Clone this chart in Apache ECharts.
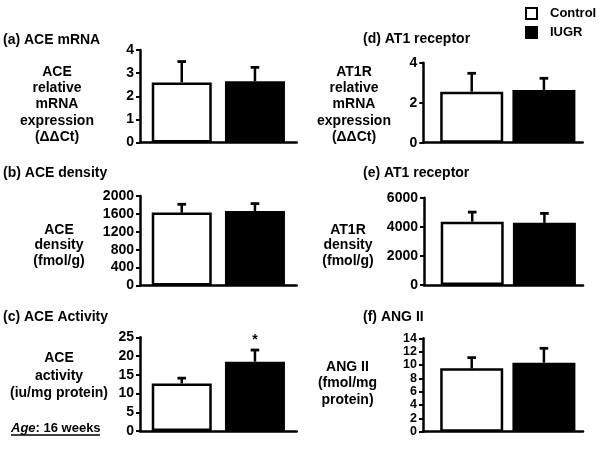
<!DOCTYPE html>
<html><head><meta charset="utf-8">
<script src="https://cdn.jsdelivr.net/npm/echarts@6/dist/echarts.min.js"></script>
<style>html,body{margin:0;padding:0;background:#fff}#c{width:601px;height:449px}</style>
</head><body><div id="c"></div>
<script>
// ---- data ----
const groups = ['Control', 'IUGR'];
const panelTitles = ['(a) ACE mRNA', '(b) ACE density', '(c) ACE Activity', '(d) AT1 receptor', '(e) AT1 receptor', '(f) ANG II'];
const yLabels = [
  'ACE\nrelative\nmRNA\nexpression\n(ΔΔCt)',
  'ACE\ndensity\n(fmol/g)',
  'ACE\nactivity\n(iu/mg protein)',
  'AT1R\nrelative\nmRNA\nexpression\n(ΔΔCt)',
  'AT1R\ndensity\n(fmol/g)',
  'ANG II\n(fmol/mg\nprotein)'
];
const controlMean = [2.6, 1630, 12.7, 2.55, 4350, 9.5];
const controlSem  = [0.9, 185, 1.4, 0.92, 660, 1.6];
const iugrMean    = [2.65, 1665, 18.5, 2.64, 4270, 10.35];
const iugrSem     = [0.6, 165, 3.1, 0.58, 650, 2.15];
const yMax  = [4, 2000, 25, 4, 6000, 14];
const yStep = [1, 400, 5, 2, 2000, 2];
const sigMarks = ['', '', '*', '', '', ''];
const ageNote = 'Age';
const ageRest = ': 16 weeks';

// ---- layout / style ----
const FONT = '"Liberation Sans", Arial, Helvetica, sans-serif';
const grids = [
  {left: 140, top: 50, width: 156.7, height: 92.5},
  {left: 140, top: 196, width: 156.7, height: 89.5},
  {left: 140, top: 337.3, width: 156.7, height: 93.7},
  {left: 423.3, top: 62.7, width: 159.4, height: 80},
  {left: 424, top: 197.7, width: 159, height: 87.3},
  {left: 423, top: 338.3, width: 160, height: 93.4}
];
const tickFont = [14, 14, 14, 14, 14, 12.5];
const barGeom = [
  {w: 60, p: 0.22, s: 0}, {w: 60, p: 0.22, s: 0}, {w: 60, p: 0.22, s: 0},
  {w: 63, p: 0.146, s: 8.4}, {w: 63, p: 0.146, s: 8.4}, {w: 63, p: 0.146, s: 8.4}
];
const titlePos = [
  {left: 3, top: 32}, {left: 3, top: 165.3}, {left: 3, top: 308.7},
  {left: 363, top: 31.3}, {left: 363, top: 165.3}, {left: 363, top: 308.7}
];
const yLabelPos = [
  {x: 57, top: 63.5, lh: 16.4}, {x: 59, top: 222.2, lh: 15.6}, {x: 59, top: 349.5, lh: 17.5},
  {x: 354, top: 63.5, lh: 16.4}, {x: 348, top: 222.2, lh: 15.6}, {x: 347.5, top: 358.3, lh: 16.7}
];

function barCenters(g) {
  const cols = g.s > 0 ? [g.s, g.w, g.w] : [g.w, g.w];
  let total = 0;
  cols.forEach(c => total += c * (1 + g.p));
  total -= cols[cols.length - 1] * g.p;
  let off = -total / 2;
  const centers = [];
  cols.forEach(c => { centers.push(off + c / 2); off += c * (1 + g.p); });
  return centers.slice(-2);
}

const title = [], xAxis = [], yAxis = [], grid = [], series = [];
panelTitles.forEach((t, i) => {
  title.push({text: t, left: titlePos[i].left, top: titlePos[i].top, padding: 0,
    textStyle: {fontFamily: FONT, fontSize: 14, fontWeight: 'bold', color: '#000', lineHeight: 16}});
  title.push({text: yLabels[i], left: yLabelPos[i].x, top: yLabelPos[i].top, padding: 0, textAlign: 'center',
    textStyle: {fontFamily: FONT, fontSize: 14, fontWeight: 'bold', color: '#000', lineHeight: yLabelPos[i].lh, align: 'center'}});
  grid.push(Object.assign({containLabel: false}, grids[i]));
  xAxis.push({gridIndex: i, type: 'category', data: [''],
    axisLine: {lineStyle: {color: '#000', width: 2.5}}, axisTick: {show: false}, axisLabel: {show: false}});
  yAxis.push({gridIndex: i, type: 'value', min: 0, max: yMax[i], interval: yStep[i],
    axisLine: {show: true, lineStyle: {color: '#000', width: 2.5}},
    axisTick: {show: true, length: 4, lineStyle: {color: '#000', width: 2}},
    axisLabel: {color: '#000', fontWeight: 'bold', fontSize: tickFont[i], fontFamily: FONT, margin: 6, lineHeight: 11,
      showMinLabel: true, showMaxLabel: true, hideOverlap: false,
      formatter: function (v) { return String(v); }},
    splitLine: {show: false}});
  const g = barGeom[i];
  const gap = (g.p * 100) + '%';
  if (g.s > 0) {
    series.push({type: 'bar', xAxisIndex: i, yAxisIndex: i, data: ['-'], barWidth: g.s, barGap: gap,
      silent: true, itemStyle: {color: 'rgba(0,0,0,0)'}});
  }
  series.push({name: groups[0], type: 'bar', xAxisIndex: i, yAxisIndex: i, data: [controlMean[i]],
    barWidth: g.w, barGap: gap, itemStyle: {color: '#fff', borderColor: '#000', borderWidth: 2.5}});
  series.push({name: groups[1], type: 'bar', xAxisIndex: i, yAxisIndex: i, data: [iugrMean[i]],
    barWidth: g.w, barGap: gap, itemStyle: {color: '#000', borderColor: '#000', borderWidth: 2.5}});
  const offs = barCenters(g);
  const marks = ['', sigMarks[i]];
  series.push({type: 'custom', xAxisIndex: i, yAxisIndex: i, silent: true, z: 5,
    data: [[0, controlMean[i], controlSem[i]], [0, iugrMean[i], iugrSem[i]]],
    renderItem: function (params, api) {
      const m = api.value(1), e = api.value(2);
      const base = api.coord([0, m]);
      const top = api.coord([0, m + e]);
      const x = base[0] + offs[params.dataIndex];
      const children = [
        {type: 'line', shape: {x1: x, y1: base[1], x2: x, y2: top[1]}, style: {stroke: '#000', lineWidth: 2.5}},
        {type: 'line', shape: {x1: x - 4.3, y1: top[1], x2: x + 4.3, y2: top[1]}, style: {stroke: '#000', lineWidth: 2.8}}
      ];
      const sig = marks[params.dataIndex];
      if (sig) {
        children.push({type: 'text', style: {text: sig, x: x, y: top[1] - 3, align: 'center', verticalAlign: 'bottom',
          font: 'bold 14px ' + FONT, fill: '#000'}});
      }
      return {type: 'group', children: children};
    }});
});

title.push({text: '{i|' + ageNote + '}{n|' + ageRest + '}', left: 11, top: 420, padding: 0,
  textStyle: {rich: {
    i: {fontFamily: FONT, fontSize: 13, fontWeight: 'bold', fontStyle: 'italic', color: '#000', lineHeight: 16},
    n: {fontFamily: FONT, fontSize: 13, fontWeight: 'bold', color: '#000', lineHeight: 16}}}});

const chart = echarts.init(document.getElementById('c'), null, {renderer: 'canvas'});
chart.setOption({
  backgroundColor: '#fff',
  animation: false,
  title: title,
  grid: grid,
  xAxis: xAxis,
  yAxis: yAxis,
  legend: {data: groups, orient: 'vertical', left: 525, top: 7, padding: 0, itemWidth: 11, itemHeight: 11, itemGap: 6,
    selectedMode: false, icon: 'rect',
    itemStyle: {borderWidth: 2},
    textStyle: {fontFamily: FONT, fontSize: 13, fontWeight: 'bold', color: '#000', padding: [0, 0, 0, 8]}},
  graphic: [{type: 'line', shape: {x1: 11, y1: 435, x2: 100, y2: 435}, style: {stroke: '#000', lineWidth: 1.5}}],
  series: series
});
</script></body></html>
